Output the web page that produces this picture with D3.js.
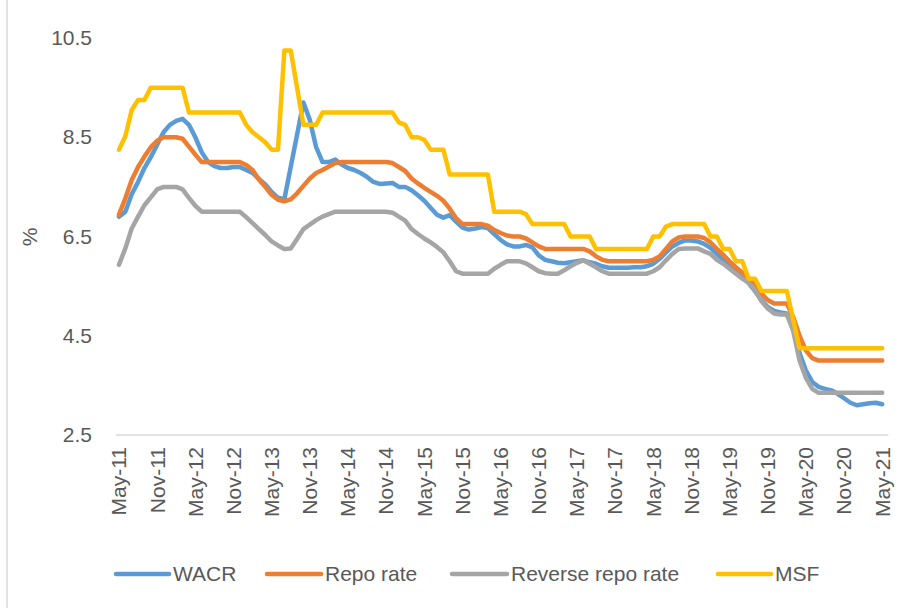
<!DOCTYPE html>
<html><head><meta charset="utf-8">
<script src="https://cdn.jsdelivr.net/npm/d3@7"></script>
<style>
html,body{margin:0;padding:0;background:#fff;}
svg{display:block;font-family:"Liberation Sans",Arial,sans-serif;}
</style></head><body>
<svg id="chart" width="904" height="608"></svg>
<script>
// categories: monthly, May-2011 .. May-2021
const categories = d3.timeMonths(new Date(2011, 4, 1), new Date(2021, 5, 1)).map(d3.timeFormat("%b-%y"));
const tickLabels = ["May-11","Nov-11","May-12","Nov-12","May-13","Nov-13","May-14","Nov-14","May-15","Nov-15",
  "May-16","Nov-16","May-17","Nov-17","May-18","Nov-18","May-19","Nov-19","May-20","Nov-20","May-21"];
const yTicks = [2.5, 4.5, 6.5, 8.5, 10.5];

const wacr = [
6.9, 7.0, 7.35, 7.6, 7.88, 8.1, 8.35, 8.6, 8.75, 8.83,
8.87, 8.75, 8.5, 8.2, 8.0, 7.92, 7.88, 7.88, 7.9, 7.9,
7.84, 7.78, 7.66, 7.55, 7.4, 7.28, 7.25, 7.9, 8.55, 9.2,
8.85, 8.3, 8.0, 8.0, 8.05, 7.95, 7.88, 7.84, 7.78, 7.7,
7.6, 7.56, 7.57, 7.58, 7.5, 7.5, 7.43, 7.33, 7.22, 7.08,
6.94, 6.88, 6.93, 6.8, 6.68, 6.64, 6.66, 6.69, 6.67, 6.55,
6.43, 6.34, 6.3, 6.3, 6.33, 6.28, 6.12, 6.03, 6.0, 5.97,
5.96, 5.98, 6.0, 6.02, 5.98, 5.95, 5.9, 5.87, 5.87, 5.87,
5.87, 5.88, 5.88, 5.9, 5.95, 6.05, 6.18, 6.3, 6.37, 6.42,
6.42, 6.4, 6.35, 6.27, 6.15, 6.03, 5.9, 5.78, 5.68, 5.56,
5.4, 5.22, 5.08, 5.0, 4.97, 4.95, 4.65, 4.15, 3.8, 3.57,
3.47, 3.43, 3.4, 3.33, 3.24, 3.15, 3.1, 3.12, 3.14, 3.15,
3.12];

const repo = [
6.94, 7.27, 7.64, 7.9, 8.11, 8.3, 8.43, 8.5, 8.5, 8.5,
8.47, 8.31, 8.15, 8.0, 8.0, 8.0, 8.0, 8.0, 8.0, 8.0,
7.94, 7.84, 7.65, 7.5, 7.34, 7.24, 7.21, 7.25, 7.37, 7.52,
7.67, 7.78, 7.84, 7.91, 7.98, 8.0, 8.0, 8.0, 8.0, 8.0,
8.0, 8.0, 8.0, 7.98, 7.9, 7.82, 7.67, 7.57, 7.48, 7.4,
7.32, 7.22, 7.06, 6.87, 6.75, 6.75, 6.75, 6.75, 6.72, 6.63,
6.57, 6.52, 6.5, 6.5, 6.46, 6.38, 6.3, 6.25, 6.25, 6.25,
6.25, 6.25, 6.25, 6.25, 6.2, 6.1, 6.03, 6.0, 6.0, 6.0,
6.0, 6.0, 6.0, 6.0, 6.03, 6.1, 6.25, 6.4, 6.48, 6.5,
6.5, 6.5, 6.47, 6.38, 6.25, 6.13, 6.0, 5.88, 5.77, 5.67,
5.52, 5.35, 5.22, 5.15, 5.15, 5.15, 4.88, 4.5, 4.2, 4.05,
4.0, 4.0, 4.0, 4.0, 4.0, 4.0, 4.0, 4.0, 4.0, 4.0,
4.0];

const reverseRepo = [
5.93, 6.26, 6.66, 6.9, 7.13, 7.29, 7.45, 7.5, 7.5, 7.5,
7.45, 7.28, 7.12, 7.0, 7.0, 7.0, 7.0, 7.0, 7.0, 7.0,
6.89, 6.77, 6.65, 6.53, 6.4, 6.32, 6.25, 6.26, 6.45, 6.65,
6.74, 6.83, 6.9, 6.95, 7.0, 7.0, 7.0, 7.0, 7.0, 7.0,
7.0, 7.0, 7.0, 6.98, 6.9, 6.82, 6.65, 6.55, 6.46, 6.38,
6.29, 6.18, 6.0, 5.8, 5.75, 5.75, 5.75, 5.75, 5.75, 5.85,
5.93, 6.0, 6.0, 6.0, 5.96, 5.88, 5.8, 5.76, 5.75, 5.75,
5.82, 5.9, 5.97, 6.02, 5.95, 5.88, 5.8, 5.75, 5.75, 5.75,
5.75, 5.75, 5.75, 5.75, 5.8, 5.88, 6.02, 6.15, 6.25, 6.26,
6.26, 6.26, 6.2, 6.15, 6.03, 5.95, 5.85, 5.75, 5.65, 5.57,
5.42, 5.2, 5.05, 4.95, 4.93, 4.93, 4.6, 4.0, 3.65, 3.43,
3.35, 3.35, 3.35, 3.35, 3.35, 3.35, 3.35, 3.35, 3.35, 3.35,
3.35];

const msf = [
8.25, 8.52, 9.05, 9.25, 9.25, 9.5, 9.5, 9.5, 9.5, 9.5,
9.5, 9.0, 9.0, 9.0, 9.0, 9.0, 9.0, 9.0, 9.0, 9.0,
8.75, 8.6, 8.5, 8.4, 8.25, 8.25, 10.25, 10.25, 9.5, 8.75,
8.75, 8.75, 9.0, 9.0, 9.0, 9.0, 9.0, 9.0, 9.0, 9.0,
9.0, 9.0, 9.0, 9.0, 8.8, 8.75, 8.5, 8.5, 8.45, 8.25,
8.25, 8.25, 7.75, 7.75, 7.75, 7.75, 7.75, 7.75, 7.75, 7.0,
7.0, 7.0, 7.0, 7.0, 6.95, 6.75, 6.75, 6.75, 6.75, 6.75,
6.75, 6.5, 6.5, 6.5, 6.5, 6.25, 6.25, 6.25, 6.25, 6.25,
6.25, 6.25, 6.25, 6.25, 6.5, 6.5, 6.7, 6.75, 6.75, 6.75,
6.75, 6.75, 6.75, 6.5, 6.5, 6.25, 6.25, 6.0, 6.0, 5.65,
5.65, 5.4, 5.4, 5.4, 5.4, 5.4, 4.83, 4.25, 4.25, 4.25,
4.25, 4.25, 4.25, 4.25, 4.25, 4.25, 4.25, 4.25, 4.25, 4.25,
4.25];

const seriesNames = ["WACR", "Repo rate", "Reverse repo rate", "MSF"];
const seriesValues = [wacr, repo, reverseRepo, msf];
const seriesColors = ["#5B9BD5", "#ED7D31", "#A5A5A5", "#FFC000"];

const svg = d3.select("#chart");
const textColor = "#595959";
const fontSize = 21;

svg.append("rect").attr("width", 904).attr("height", 608).attr("fill", "#fff");
svg.append("line").attr("x1", 7).attr("x2", 7).attr("y1", 0).attr("y2", 608)
  .attr("stroke", "#d9d9d9").attr("stroke-width", 1.5);

const x = d3.scaleBand().domain(categories).range([115.8, 885.4]).paddingInner(0).paddingOuter(0);
const xc = c => x(c) + x.bandwidth() / 2;
const y = d3.scaleLinear().domain([2.5, 10.5]).range([435, 38]);

// y axis
const yAxis = svg.append("g").attr("transform", "translate(100,0)")
  .call(d3.axisLeft(y).tickValues(yTicks).tickFormat(d3.format(".1f")).tickSize(0).tickPadding(8));
yAxis.select(".domain").remove();
yAxis.selectAll("text").attr("fill", textColor).style("font-size", fontSize + "px");

// x axis
const xAxis = svg.append("g").attr("transform", "translate(0,435)")
  .call(d3.axisBottom(x).tickValues(tickLabels).tickSize(0).tickSizeOuter(0));
xAxis.select(".domain").attr("stroke", "#d9d9d9").attr("stroke-width", 1.5)
  .attr("d", `M${x.range()[0]},0H${x.range()[1] + 3}`);
xAxis.selectAll("text")
  .attr("fill", textColor).style("font-size", fontSize + "px")
  .attr("transform", "rotate(-90)")
  .attr("text-anchor", "end")
  .attr("x", -12).attr("y", 0).attr("dy", "0.35em");

// y axis title
svg.append("text").attr("transform", "translate(30,237) rotate(-90)")
  .attr("text-anchor", "middle").attr("dy", "0.35em")
  .attr("fill", textColor).style("font-size", fontSize + "px").text("%");

// lines
const line = d3.line().x((d, i) => xc(categories[i])).y(d => y(d));
svg.append("g").selectAll("path").data(seriesValues).join("path")
  .attr("d", d => line(d))
  .attr("fill", "none")
  .attr("stroke", (d, i) => seriesColors[i])
  .attr("stroke-width", 4.5)
  .attr("stroke-linejoin", "round")
  .attr("stroke-linecap", "round");

// legend
const legendPos = [[116, 169, 173], [267, 321, 325], [452, 507, 511], [718, 771, 775]];
const lg = svg.append("g").attr("transform", "translate(0,574)");
seriesNames.forEach((name, i) => {
  const [a, b, t] = legendPos[i];
  lg.append("line").attr("x1", a).attr("x2", b).attr("y1", 0).attr("y2", 0)
    .attr("stroke", seriesColors[i]).attr("stroke-width", 4.5).attr("stroke-linecap", "round");
  lg.append("text").attr("x", t).attr("y", 0).attr("dy", "0.35em")
    .attr("fill", textColor).style("font-size", fontSize + "px").text(name);
});
</script>
</body></html>
